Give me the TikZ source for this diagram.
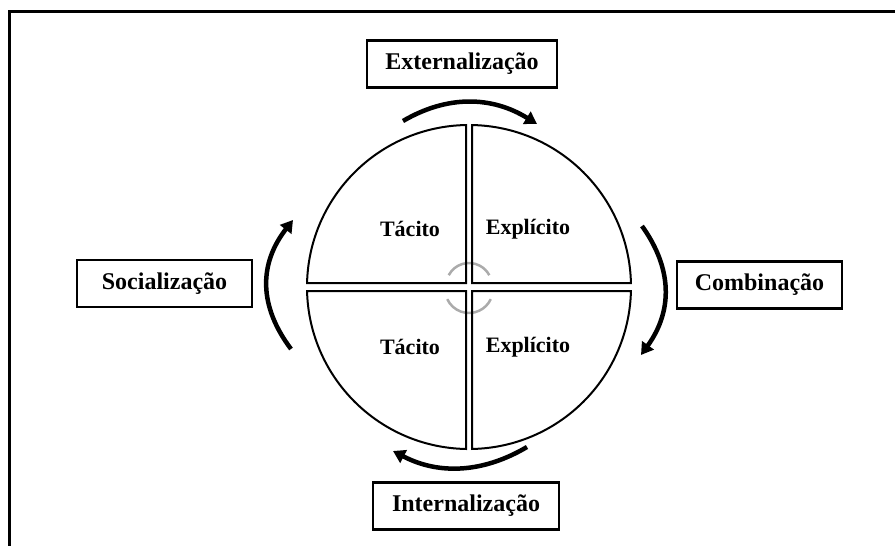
\documentclass[tikz,border=0pt]{standalone}
\usepackage{fontspec}
\setmainfont{Liberation Serif}
\usetikzlibrary{arrows.meta}
\begin{document}
\begin{tikzpicture}[x=1pt,y=-1pt,
  lbl/.style={draw=black,line width=2.6pt,minimum height=47pt,inner xsep=0pt,
    font=\bfseries\fontsize{24}{27}\selectfont},
  inner/.style={font=\bfseries\fontsize{22}{25}\selectfont,inner sep=0pt},
  quad/.style={draw=black,line width=2pt,line join=miter},
  cyc/.style={line width=4.5pt,-{Triangle[length=12pt,width=14pt]}},
  ring/.style={draw=black!33,line width=2.5pt}]
\useasboundingbox (0,0) rectangle (895,546);
% outer frame (only top and left visible)
\draw[line width=3pt] (9.7,546) -- (9.7,11.7) -- (895,11.7);
% grey centre arcs
\draw[ring] (469,286) ++(-152:23) arc[start angle=-152,end angle=-28,radius=23];
\draw[ring] (469,289) ++(155:24) arc[start angle=155,end angle=25,radius=24];
% quadrants
\draw[quad] (466,283) -- (466,125.03) arc[start angle=-91.06,end angle=-178.59,radius=162] -- cycle;
\draw[quad] (472,283) -- (630.95,283) arc[start angle=-1.415,end angle=-88.94,radius=162] -- cycle;
\draw[quad] (472,291) -- (472,448.97) arc[start angle=88.94,end angle=1.415,radius=162] -- cycle;
\draw[quad] (466,291) -- (307.05,291) arc[start angle=178.59,end angle=91.06,radius=162] -- cycle;
% quadrant texts
\node[inner] (t1) at (410,229) {Tácito};
\node[inner] (e1) at (528,229) {Explícito};
\node[inner] (t2) at (410,347) {Tácito};
\node[inner] (e2) at (528,347) {Explícito};
% label boxes
\node[lbl,minimum width=190pt] (ext) at (462,64) {Externalização};
\node[lbl,minimum width=175pt] (soc) at (164.5,283.5) {Socialização};
\node[lbl,minimum width=165pt] (com) at (759.5,285) {Combinação};
\node[lbl,minimum width=186pt] (int) at (466,506) {Internalização};
% arrow end coordinates
\coordinate (st) at (291,349); \coordinate (sh) at (293,220);
\coordinate (et) at (403,121); \coordinate (eh) at (537,124);
\coordinate (ct) at (642,226); \coordinate (ch) at (641,355);
\coordinate (it) at (527,447); \coordinate (ih) at (393,451);
% cycle arrows
\draw[cyc] (st) .. controls (258.7,306) and (258.7,264) .. (sh);
\draw[cyc] (et) .. controls (447.3,95) and (491.7,96) .. (eh);
\draw[cyc] (ct) .. controls (672.7,269) and (672.7,311) .. (ch);
\draw[cyc] (it) .. controls (483,473) and (439,475) .. (ih);
\end{tikzpicture}
\end{document}
